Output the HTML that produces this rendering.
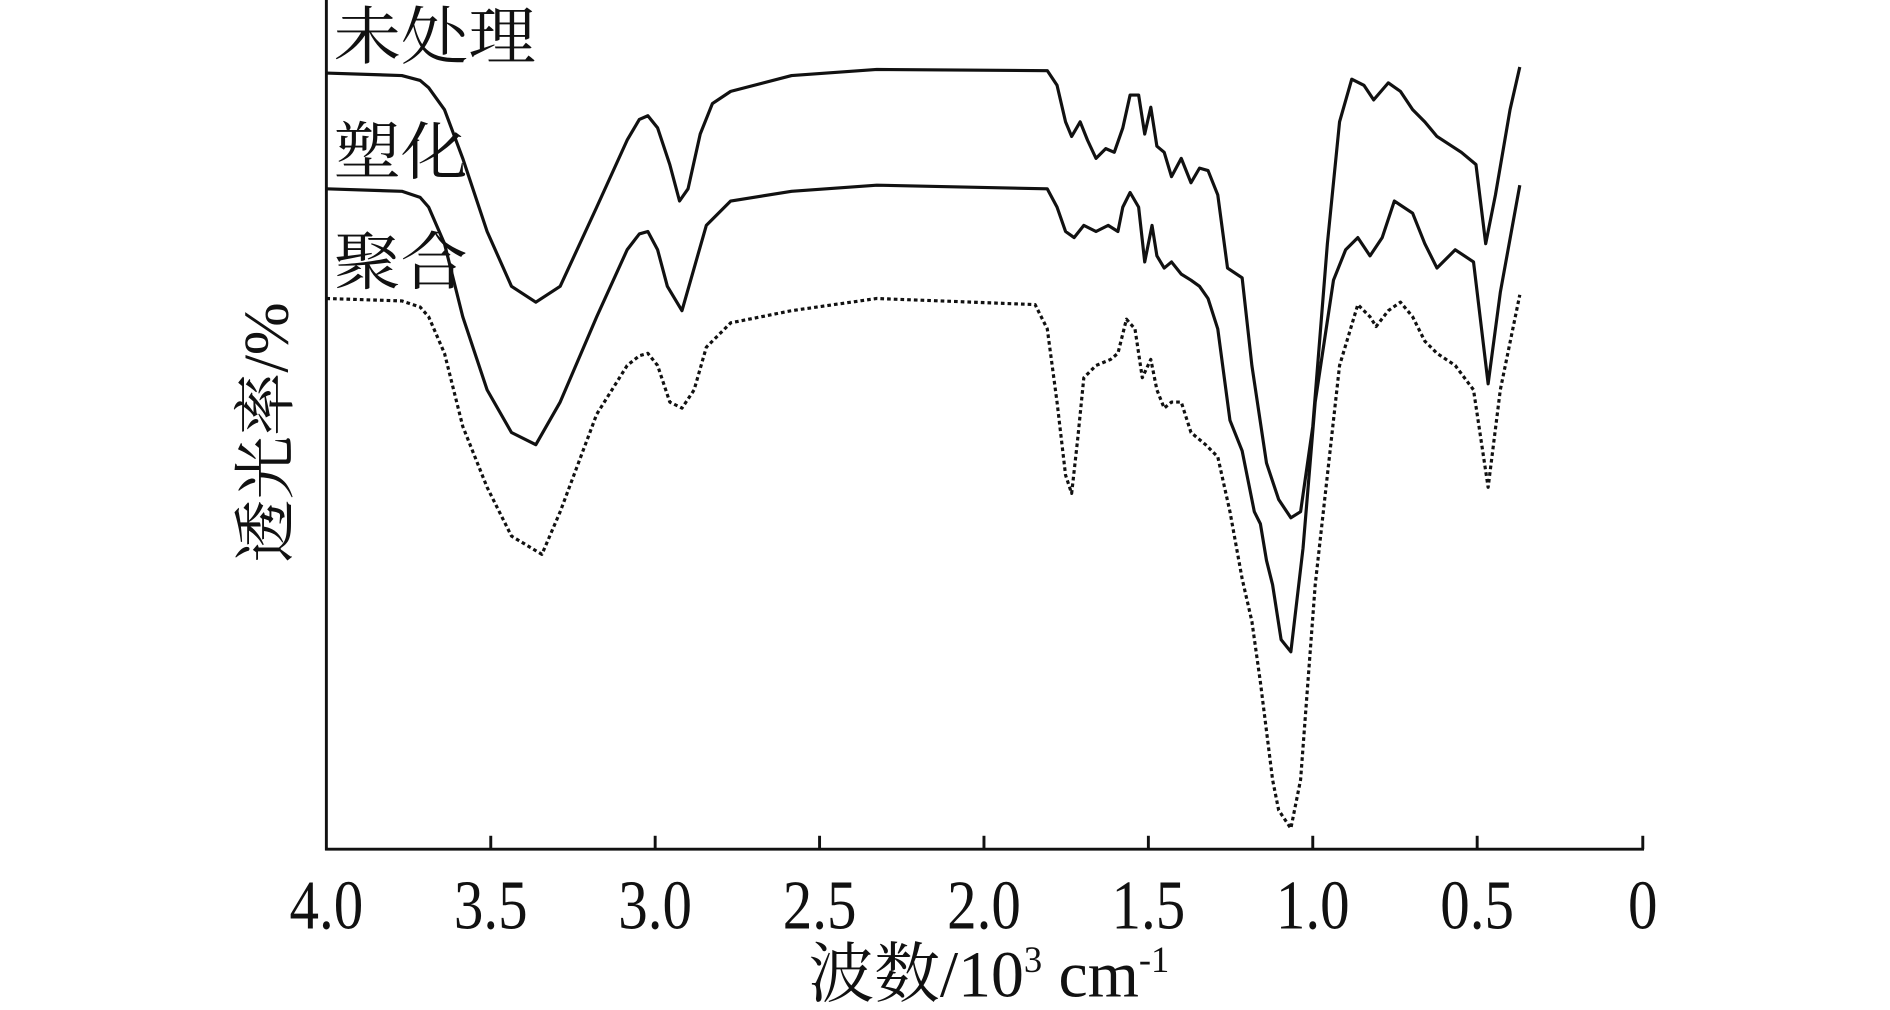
<!DOCTYPE html>
<html><head><meta charset="utf-8"><style>
html,body{margin:0;padding:0;background:#fff;}
svg{display:block;}
text{font-family:"Liberation Serif","Noto Serif CJK SC",serif;fill:#111;}
</style></head><body>
<svg width="1890" height="1010" viewBox="0 0 1552 829" preserveAspectRatio="none" xmlns="http://www.w3.org/2000/svg">
<g stroke="#111" stroke-width="2.4" fill="none">
<line x1="268" y1="0" x2="268" y2="698"/>
<line x1="267" y1="697" x2="1350" y2="697"/>
<line x1="403" y1="697" x2="403" y2="686"/>
<line x1="538" y1="697" x2="538" y2="686"/>
<line x1="673" y1="697" x2="673" y2="686"/>
<line x1="808" y1="697" x2="808" y2="686"/>
<line x1="943" y1="697" x2="943" y2="686"/>
<line x1="1078" y1="697" x2="1078" y2="686"/>
<line x1="1213" y1="697" x2="1213" y2="686"/>
<line x1="1349" y1="697" x2="1349" y2="686"/>
</g>
<g fill="none" stroke="#111" stroke-width="2.6" stroke-linejoin="round">
<polyline points="268,60 330,62 345,66 352,72 365,90 380,130 400,190 420,235 440,248 460,235 490,170 515,115 525,98 532,95 540,105 550,135 558,165 565,155 575,110 585,85 600,75 650,62 720,57 860,58 868,70 875,100 880,112 887,100 893,115 900,130 908,122 915,125 922,105 928,78 935,78 940,110 945,88 950,120 956,125 962,145 970,130 978,150 985,138 992,140 1000,160 1008,220 1020,228 1028,300 1040,380 1050,410 1060,425 1068,420 1078,350 1090,200 1100,100 1110,65 1120,70 1128,82 1140,68 1150,75 1160,90 1170,100 1180,112 1200,125 1212,135 1220,200 1228,160 1240,90 1248,55"/>
<polyline points="268,155 330,157 345,162 352,170 365,200 380,260 400,320 420,355 440,365 460,330 490,260 515,205 525,192 532,190 540,205 548,235 560,255 570,220 580,185 600,165 650,157 720,152 860,155 868,170 875,190 882,195 890,185 900,190 910,185 918,190 922,170 928,158 935,170 940,215 946,185 950,210 956,220 962,215 970,225 978,230 985,235 992,245 1000,270 1010,345 1020,370 1030,420 1035,430 1040,460 1045,480 1052,525 1060,535 1070,450 1080,330 1095,230 1105,205 1115,195 1125,210 1135,195 1145,165 1160,175 1170,200 1180,220 1195,205 1210,215 1222,315 1232,240 1248,152"/>
<polyline stroke-dasharray="3,2.5" points="268,245 330,247 345,252 352,260 365,290 380,350 400,400 420,440 445,455 460,420 490,340 515,300 525,292 532,290 540,300 550,330 560,335 570,320 580,285 600,265 650,255 720,245 850,250 860,270 868,330 875,390 880,405 885,360 890,310 900,300 912,295 918,290 925,262 932,270 938,310 945,295 950,320 956,335 962,330 970,330 978,355 990,365 1000,375 1010,420 1020,475 1028,510 1035,560 1040,600 1045,640 1050,665 1060,680 1068,640 1080,480 1100,300 1115,250 1125,260 1130,268 1140,255 1150,248 1160,260 1170,280 1180,290 1195,300 1210,320 1222,400 1232,320 1248,242"/>
</g>
<g font-size="52">
<text x="274" y="48" textLength="166" lengthAdjust="spacingAndGlyphs">未处理</text>
<text x="274" y="143" textLength="110" lengthAdjust="spacingAndGlyphs">塑化</text>
<text x="274" y="233" textLength="110" lengthAdjust="spacingAndGlyphs">聚合</text>
</g>
<text transform="translate(236,355) rotate(-90)" font-size="52" text-anchor="middle">透光率/%</text>
<g font-size="57" text-anchor="middle">
<text transform="translate(268,762) scale(0.85,1)">4.0</text>
<text transform="translate(403,762) scale(0.85,1)">3.5</text>
<text transform="translate(538,762) scale(0.85,1)">3.0</text>
<text transform="translate(673,762) scale(0.85,1)">2.5</text>
<text transform="translate(808,762) scale(0.85,1)">2.0</text>
<text transform="translate(943,762) scale(0.85,1)">1.5</text>
<text transform="translate(1078,762) scale(0.85,1)">1.0</text>
<text transform="translate(1213,762) scale(0.85,1)">0.5</text>
<text transform="translate(1349,762) scale(0.85,1)">0</text>
</g>
<text x="812" y="818" font-size="54" text-anchor="middle">波数/10<tspan font-size="30" dy="-20">3</tspan><tspan dy="20"> cm</tspan><tspan font-size="30" dy="-20">-1</tspan></text>
</svg>
</body></html>
